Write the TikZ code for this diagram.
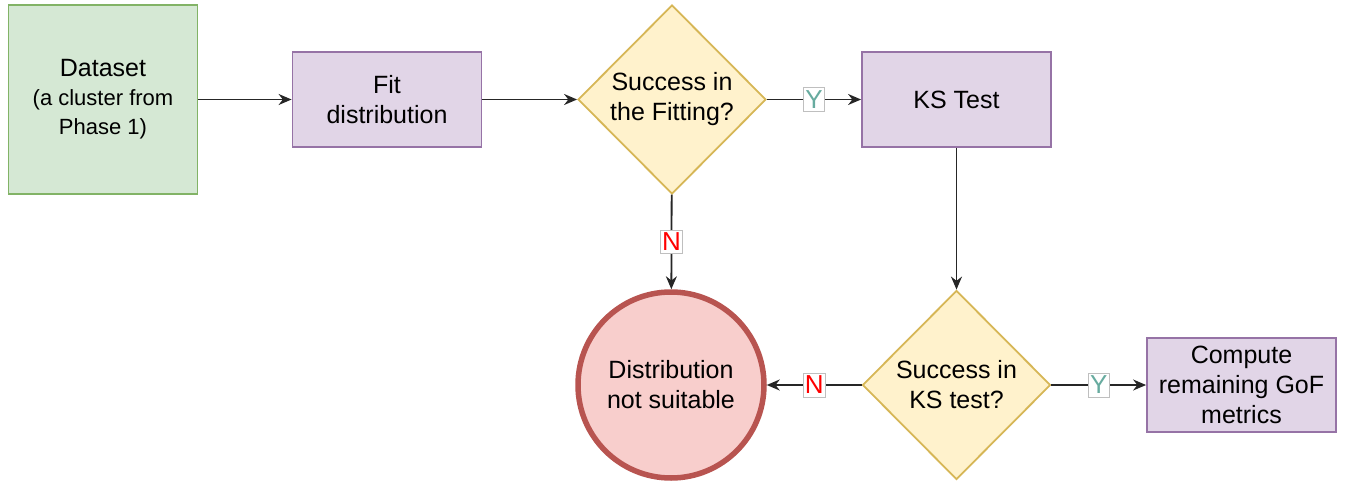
\documentclass[tikz,border=0pt]{standalone}
\usepackage{fontspec}
\setmainfont{Liberation Sans}
\usetikzlibrary{shapes.geometric,arrows.meta}
\definecolor{gfill}{HTML}{D5E8D4}
\definecolor{gdraw}{HTML}{82B366}
\definecolor{pfill}{HTML}{E1D5E7}
\definecolor{pdraw}{HTML}{9673A6}
\definecolor{yfill}{HTML}{FFF2CC}
\definecolor{ydraw}{HTML}{D6B656}
\definecolor{rfill}{HTML}{F8CECC}
\definecolor{rdraw}{HTML}{B85450}
\definecolor{ytext}{HTML}{67AB9F}
\begin{document}
\begin{tikzpicture}[x=1pt,y=-1pt,
font=\fontsize{25}{30}\selectfont,
>={Stealth[length=13pt,width=11pt]}
]

\tikzstyle{b} = [draw=pdraw, fill=pfill, line width=1.8pt, shape=rectangle, minimum width=189pt, minimum height=95pt, align=center, inner sep=0pt]
\tikzstyle{d} = [draw=ydraw, fill=yfill, line width=1.8pt, shape=diamond, minimum width=188pt, minimum height=189pt, align=center, inner sep=0pt]
\tikzstyle{l} = [draw=gray!50, fill=white, inner xsep=1.5pt, inner ysep=3pt, line width=0.8pt, font=\fontsize{26}{28}\selectfont]
\tikzstyle{e} = [->, line width=1.8pt, black!85]

\useasboundingbox (0,0) rectangle (1345,482);

\node[b, draw=gdraw, fill=gfill, minimum height=189pt] (data) at (103,99.5)
  {Dataset\\[-1pt]{\fontsize{22}{27}\selectfont (a cluster from}\\[-1pt]{\fontsize{22}{27}\selectfont Phase 1)}};
\node[b] (fit) at (387,99.5) {Fit\\distribution};
\node[d] (fitok) at (672,99.5) {Success in\\the Fitting?};
\node[b] (ks) at (956.5,99.5) {KS Test};
\node[d] (ksok) at (956.5,385) {Success in\\KS test?};
\node[draw=rdraw, fill=rfill, line width=5.5pt, shape=circle, minimum size=186pt, align=center, inner sep=0pt] (bad) at (671,385) {Distribution\\not suitable};
\node[b, minimum height=94pt] (gof) at (1241.5,385) {Compute\\remaining GoF\\metrics};

\draw[e] (data) -- (fit);
\draw[e] (fit) -- (fitok);
\draw[e] (fitok) -- node[l, text=ytext] {Y} (ks);
\draw[e] (fitok) -- node[l, text=red] {N} (bad);
\draw[e] (ks) -- (ksok);
\draw[e] (ksok) -- node[l, text=red] {N} (bad);
\draw[e] (ksok) -- node[l, text=ytext] {Y} (gof);

\end{tikzpicture}
\end{document}
